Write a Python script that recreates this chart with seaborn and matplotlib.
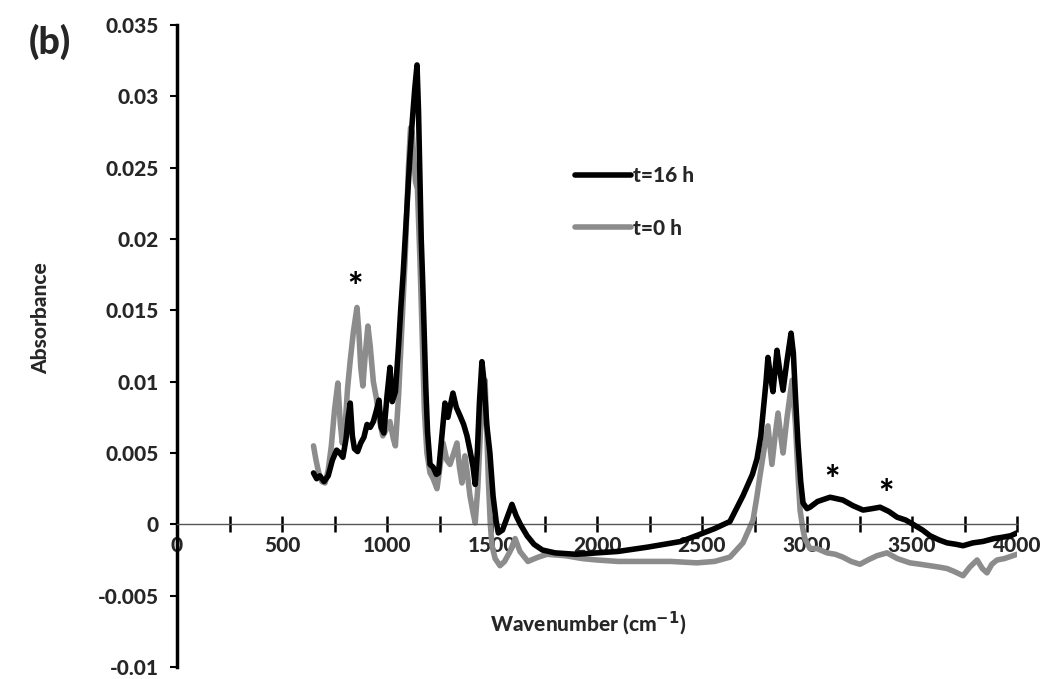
import matplotlib
matplotlib.use("Agg")
import matplotlib.pyplot as plt
import seaborn as sns
import pandas as pd
import numpy as np
from matplotlib.ticker import MultipleLocator

# ---- data ----
wn_16h = [650, 665, 680, 700, 720, 740, 760, 775, 790, 805, 815, 825, 835, 845, 860, 875, 890, 905, 920, 935,
          950, 962, 972, 985, 1000, 1014, 1025, 1040, 1055, 1065, 1077, 1090, 1100, 1110, 1120, 1132, 1143,
          1150, 1157, 1163, 1170, 1177, 1185, 1193, 1205, 1220, 1235, 1245, 1260, 1276, 1290, 1300, 1314,
          1330, 1348, 1365, 1381, 1395, 1410, 1420, 1430, 1440, 1452, 1462, 1475, 1490, 1505, 1520, 1530,
          1550, 1570, 1595, 1615, 1635, 1667, 1700, 1740, 1800, 1900, 2000, 2100, 2240, 2400, 2490, 2560,
          2633, 2695, 2740, 2762, 2780, 2795, 2805, 2814, 2826, 2838, 2848, 2857, 2870, 2886, 2905, 2924,
          2935, 2945, 2957, 2970, 2981, 3000, 3014, 3050, 3110, 3171, 3220, 3267, 3310, 3348, 3390, 3429,
          3470, 3505, 3550, 3586, 3630, 3667, 3710, 3743, 3790, 3838, 3890, 3933, 3970, 4000]
abs_16h = [0.0036, 0.0032, 0.0034, 0.0030, 0.0034, 0.0045, 0.0052, 0.0050, 0.0047, 0.0060, 0.0075, 0.0085,
           0.0062, 0.0053, 0.0051, 0.0057, 0.0061, 0.0070, 0.0068, 0.0072, 0.0080, 0.0087, 0.0068, 0.0064,
           0.0090, 0.0110, 0.0086, 0.0093, 0.0125, 0.0150, 0.0176, 0.0210, 0.0235, 0.0260, 0.0282, 0.0305,
           0.0322, 0.0290, 0.0243, 0.0200, 0.0170, 0.0135, 0.0095, 0.0065, 0.0042, 0.0040, 0.0035, 0.0036,
           0.0060, 0.0085, 0.0075, 0.0082, 0.0092, 0.0082, 0.0076, 0.0070, 0.0062, 0.0052, 0.0040, 0.0028,
           0.0050, 0.0085, 0.0114, 0.0100, 0.0070, 0.0050, 0.0020, 0.0002, -0.0006, -0.0004, 0.0004, 0.0014,
           0.0006, 0.0000, -0.0008, -0.0014, -0.0018, -0.0020, -0.0021, -0.0020, -0.0019, -0.0016, -0.0012,
           -0.0007, -0.0003, 0.0002, 0.0020, 0.0035, 0.0046, 0.0062, 0.0085, 0.0100, 0.0117, 0.0104, 0.0093,
           0.0108, 0.0122, 0.0108, 0.0094, 0.0115, 0.0134, 0.0120, 0.0090, 0.0057, 0.0030, 0.0015, 0.0011,
           0.0012, 0.0016, 0.0019, 0.0017, 0.0013, 0.0010, 0.0011, 0.0012, 0.0009, 0.0005, 0.0003, 0.0000,
           -0.0004, -0.0008, -0.0011, -0.0013, -0.0014, -0.0015, -0.0013, -0.0012, -0.0010, -0.0009, -0.0008,
           -0.0006]

wn_0h = [650, 662, 675, 690, 705, 720, 735, 750, 766, 778, 787, 800, 812, 825, 840, 857, 866, 875, 885, 897,
         909, 920, 935, 950, 965, 980, 995, 1014, 1030, 1040, 1055, 1071, 1086, 1095, 1102, 1112, 1120, 1128,
         1136, 1145, 1157, 1168, 1178, 1190, 1205, 1220, 1238, 1252, 1267, 1285, 1300, 1318, 1333, 1345,
         1357, 1371, 1383, 1395, 1410, 1420, 1432, 1445, 1458, 1467, 1475, 1483, 1492, 1500, 1515, 1538,
         1560, 1586, 1610, 1633, 1671, 1720, 1762, 1850, 1930, 2000, 2100, 2238, 2350, 2476, 2560, 2633,
         2695, 2743, 2760, 2776, 2795, 2814, 2833, 2848, 2862, 2875, 2886, 2905, 2929, 2945, 2957, 2967,
         2980, 2990, 3014, 3048, 3095, 3135, 3171, 3210, 3252, 3290, 3333, 3381, 3430, 3490, 3540, 3586,
         3630, 3667, 3700, 3743, 3775, 3810, 3835, 3857, 3880, 3905, 3940, 3981, 4000]
abs_0h = [0.0055, 0.0045, 0.0036, 0.0030, 0.0029, 0.0038, 0.0055, 0.0080, 0.0099, 0.0070, 0.0057, 0.0068,
          0.0095, 0.0115, 0.0135, 0.0152, 0.0135, 0.0110, 0.0097, 0.0120, 0.0139, 0.0125, 0.0100, 0.0088,
          0.0072, 0.0062, 0.0066, 0.0072, 0.0060, 0.0055, 0.0090, 0.0139, 0.0185, 0.0222, 0.0250, 0.0278,
          0.0275, 0.0255, 0.0240, 0.0235, 0.0185, 0.0130, 0.0080, 0.0050, 0.0036, 0.0032, 0.0025, 0.0040,
          0.0057, 0.0045, 0.0042, 0.0050, 0.0057, 0.0040, 0.0029, 0.0048, 0.0035, 0.0020, 0.0008, 0.0001,
          0.0025, 0.0065, 0.0092, 0.0101, 0.0065, 0.0030, 0.0000, -0.0015, -0.0024, -0.0029, -0.0026,
          -0.0019, -0.0010, -0.0019, -0.0026, -0.0023, -0.0021, -0.0022, -0.0024, -0.0025, -0.0026, -0.0026,
          -0.0026, -0.0027, -0.0026, -0.0023, -0.0013, 0.0003, 0.0018, 0.0034, 0.0052, 0.0069, 0.0042,
          0.0062, 0.0078, 0.0062, 0.0050, 0.0075, 0.0101, 0.0070, 0.0035, 0.0010, -0.0003, -0.0010, -0.0017,
          -0.0017, -0.0020, -0.0021, -0.0023, -0.0026, -0.0028, -0.0025, -0.0022, -0.0020, -0.0024, -0.0027,
          -0.0028, -0.0029, -0.0030, -0.0031, -0.0033, -0.0036, -0.0030, -0.0025, -0.0031, -0.0034, -0.0028,
          -0.0025, -0.0024, -0.0022, -0.0021]

series_names = ["t=16 h", "t=0 h"]
x_ticks = [0, 500, 1000, 1500, 2000, 2500, 3000, 3500, 4000]
x_tick_labels = ["0", "500", "1000", "1500", "2000", "2500", "3000", "3500", "4000"]
y_ticks = [0.035, 0.03, 0.025, 0.02, 0.015, 0.01, 0.005, 0, -0.005, -0.01]
y_tick_labels = ["0.035", "0.03", "0.025", "0.02", "0.015", "0.01", "0.005", "0", "-0.005", "-0.01"]
star_x = [848, 3119, 3376]
star_y = [0.0165, 0.0030, 0.0020]

df = pd.concat([
    pd.DataFrame({"Wavenumber": wn_16h, "Absorbance": abs_16h, "Sample": series_names[0]}),
    pd.DataFrame({"Wavenumber": wn_0h, "Absorbance": abs_0h, "Sample": series_names[1]}),
], ignore_index=True)

# ---- style ----
sns.set_theme(style="white")
plt.rcParams["font.family"] = ["Lato", "DejaVu Sans"]
W = 900  # heavy weight

fig = plt.figure(figsize=(10.46, 6.79), dpi=100)
ax = fig.add_axes([177 / 1046, 1 - 667 / 679, 840 / 1046, 642 / 679])

palette = {series_names[0]: "#000000", series_names[1]: "#8c8c8c"}
sns.lineplot(data=df, x="Wavenumber", y="Absorbance", hue="Sample", hue_order=series_names,
             palette=palette, linewidth=4.0, ax=ax, sort=False, estimator=None)
for ln in ax.lines:
    c = matplotlib.colors.to_hex(ln.get_color())
    ln.set_zorder(3 if c == "#000000" else 2)

ax.set_xlim(0, 4000)
ax.set_ylim(-0.01, 0.035)

# spines
for s in ["top", "right"]:
    ax.spines[s].set_visible(False)
ax.spines["left"].set_linewidth(2.5)
ax.spines["left"].set_color("black")
ax.spines["bottom"].set_position(("data", 0))
ax.spines["bottom"].set_linewidth(1.0)
ax.spines["bottom"].set_color("#555555")
ax.spines["bottom"].set_linestyle((0, (3, 1)))

ax.set_xticks(x_ticks, x_tick_labels)
ax.xaxis.set_minor_locator(MultipleLocator(250))
ax.set_yticks(y_ticks, y_tick_labels)
ax.tick_params(axis="x", which="both", direction="inout", length=11, width=1.8, color="black",
               labelsize=15, pad=3, bottom=True)
ax.tick_params(axis="y", direction="out", length=5, width=1.5, color="black", labelsize=15, pad=8, left=True)
for lab in ax.get_xticklabels() + ax.get_yticklabels():
    lab.set_fontweight(W)

ax.set_xlabel("Wavenumber (cm$^{\\mathbf{-1}}$)", fontsize=15, fontweight=W)
ax.set_ylabel("Absorbance", fontsize=15, fontweight=W)
ax.xaxis.set_label_coords((588 - 177) / 840, (667 - 610) / 642)
ax.yaxis.set_label_coords((50 - 177) / 840, (667 - 318) / 642)

# legend
handles, labels = ax.get_legend_handles_labels()
leg = ax.legend(handles, labels, loc="center left", bbox_to_anchor=(575 / 1046, 1 - 202 / 679),
                bbox_transform=fig.transFigure, frameon=False, fontsize=15, handlelength=2.7,
                handletextpad=0.1, labelspacing=1.6, borderaxespad=0, borderpad=0)
for t in leg.get_texts():
    t.set_fontweight(W)
for h in leg.get_lines():
    h.set_linewidth(4.0)

# asterisks
for sx, sy in zip(star_x, star_y):
    ax.text(sx, sy, "*", ha="center", va="center", fontsize=26, fontweight=W, color="black")

fig.text(50 / 1046, 1 - 42 / 679, "(b)", ha="center", va="center", fontsize=27, fontweight=W)

fig.savefig("out.png", dpi=100, facecolor="white")
